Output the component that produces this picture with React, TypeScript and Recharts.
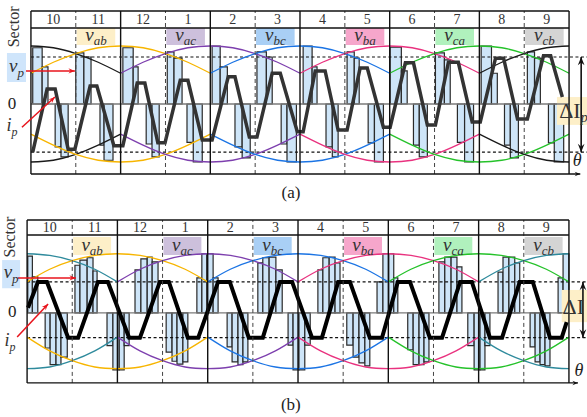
import React from 'react';
import { ComposedChart, Line, XAxis, YAxis, ReferenceArea, ReferenceLine, ReferenceDot } from 'recharts';

const SERIF = '"Liberation Serif", "DejaVu Serif", serif';

// sectors along theta, one unit each
const sectorLabels = ['10', '11', '12', '1', '2', '3', '4', '5', '6', '7', '8', '9'];
const sectorBounds = [0, 1, 2, 3, 4, 5, 6, 7, 8, 9, 10, 11, 12];

// line-voltage arcs: peak positions and tag boxes (over sectors 11, 1, 3, 5, 7, 9)
const peakPositions = [0, 2, 4, 6, 8, 10, 12];
const curveColorsA = ['#1a1a1a', '#f7b500', '#7d3fae', '#1b74e4', '#e9327f', '#25c22a', '#1a1a1a'];
const curveColorsB = ['#2e8a9c', '#f7b500', '#7d3fae', '#1b74e4', '#e9327f', '#25c22a', '#2e8a9c'];
const tagStarts = [1, 3, 5, 7, 9, 11];
const tagNames = ['ab', 'ac', 'bc', 'ba', 'ca', 'cb'];
const tagFills = ['#fdefc8', '#cdc0dc', '#a9cff5', '#f6a6cb', '#b0f1bd', '#d4d4d4'];

const arcOffsets = [-2, -1.5, -1, -0.5, 0, 0.5, 1, 1.5, 2];
const upperArcA = [0.53, 0.72, 0.87, 0.97, 1.0, 0.97, 0.87, 0.72, 0.53];
const lowerArcA = [-0.52, -0.71, -0.87, -0.97, -1.0, -0.97, -0.87, -0.71, -0.52];
const upperArcB = [0.54, 0.76, 0.91, 1.0, 1.03, 1.0, 0.91, 0.76, 0.54];
const lowerArcB = [-0.42, -0.66, -0.83, -0.94, -0.97, -0.94, -0.83, -0.66, -0.42];

// (a) pulses: [start, end, level]
const pulsesA: [number, number, number][] = [
  [0.04, 0.25, 0.97], [0.25, 0.38, 0.64], [0.54, 0.67, -0.74], [0.67, 0.83, -0.91],
  [1.0, 1.18, 0.88], [1.18, 1.34, 0.81], [1.54, 1.63, -0.71], [1.63, 1.83, -0.97],
  [2.05, 2.28, 0.97], [2.28, 2.39, 0.64], [2.57, 2.7, -0.69], [2.7, 2.86, -0.91],
  [3.04, 3.19, 0.9], [3.19, 3.37, 0.79], [3.48, 3.62, -0.66], [3.62, 3.82, -1.0],
  [4.04, 4.22, 1.0], [4.22, 4.38, 0.64], [4.55, 4.71, -0.74], [4.71, 4.89, -0.93],
  [5.04, 5.25, 0.9], [5.25, 5.38, 0.81], [5.58, 5.71, -0.69], [5.71, 5.92, -1.0],
  [6.07, 6.27, 1.0], [6.27, 6.38, 0.64], [6.58, 6.72, -0.74], [6.72, 6.85, -0.91],
  [7.05, 7.21, 0.9], [7.21, 7.32, 0.79], [7.52, 7.66, -0.67], [7.66, 7.86, -1.0],
  [8.01, 8.26, 0.98], [8.26, 8.39, 0.57], [8.53, 8.66, -0.71], [8.66, 8.84, -0.91],
  [9.02, 9.22, 0.88], [9.22, 9.35, 0.76], [9.51, 9.67, -0.66], [9.67, 9.87, -1.0],
  [10.04, 10.27, 1.0], [10.27, 10.4, 0.53], [10.56, 10.69, -0.71], [10.69, 10.87, -0.93],
  [11.07, 11.23, 0.9], [11.23, 11.36, 0.79], [11.54, 11.67, -0.67], [11.67, 11.88, -1.0],
];

// (b) pulse groups: bar edges and levels
const pulseEdgesB = [
  [0.015, 0.117, 0.237],
  [0.4, 0.51, 0.64, 0.75, 0.89],
  [1.06, 1.17, 1.33, 1.46, 1.55],
  [1.77, 1.9, 2.04, 2.15, 2.26],
  [2.39, 2.52, 2.66, 2.77, 2.9],
  [3.08, 3.21, 3.32, 3.45, 3.56],
  [3.76, 3.87, 3.98, 4.12, 4.23],
  [4.43, 4.54, 4.67, 4.78, 4.89],
  [5.11, 5.22, 5.36, 5.51, 5.65],
  [5.78, 5.89, 6.02, 6.15, 6.27],
  [6.44, 6.55, 6.69, 6.82, 6.93],
  [7.08, 7.22, 7.35, 7.48, 7.59],
  [7.75, 7.88, 8.01, 8.12, 8.21],
  [8.43, 8.55, 8.68, 8.79, 8.9],
  [9.12, 9.25, 9.39, 9.52, 9.63],
  [9.76, 9.9, 10.03, 10.14, 10.25],
  [10.43, 10.54, 10.67, 10.8, 10.91],
  [11.14, 11.25, 11.36, 11.47, 11.58],
  [11.76, 11.87, 12.0],
];
const pulseLevelsB = [
  [0.99, 0.63],
  [-0.61, -0.9, -0.9, -0.77],
  [0.83, 0.92, 0.96, 0.73],
  [-0.57, -0.99, -0.99, -0.57],
  [0.75, 0.94, 0.97, 0.89],
  [-0.68, -0.84, -0.89, -0.85],
  [0.61, 1.03, 1.03, 0.61],
  [-0.59, -0.85, -0.9, -0.85],
  [0.87, 0.96, 0.97, 0.75],
  [-0.56, -0.99, -0.99, -0.56],
  [0.75, 0.96, 0.97, 0.87],
  [-0.56, -0.77, -0.87, -0.92],
  [0.54, 1.03, 1.03, 0.61],
  [-0.64, -0.9, -0.9, -0.85],
  [0.89, 0.97, 0.97, 0.8],
  [-0.57, -0.99, -0.99, -0.57],
  [0.71, 0.97, 0.97, 0.87],
  [-0.59, -0.85, -0.9, -0.92],
  [0.61, 1.03],
];

// inductor current i_p
const currentA: [number, number][] = [
  [0.04, -0.83], [0.36, 0.26], [0.54, 0.26], [0.83, -0.78], [0.98, -0.78], [1.32, 0.31], [1.47, 0.31],
  [1.85, -0.72], [2.05, -0.72], [2.37, 0.36], [2.54, 0.36], [2.83, -0.67], [2.99, -0.67], [3.33, 0.41],
  [3.5, 0.41], [3.82, -0.62], [4.04, -0.62], [4.4, 0.47], [4.55, 0.47], [4.87, -0.57], [5.04, -0.57],
  [5.38, 0.53], [5.56, 0.53], [5.94, -0.48], [6.07, -0.48], [6.34, 0.57], [6.56, 0.57], [6.85, -0.45],
  [7.05, -0.45], [7.34, 0.62], [7.5, 0.62], [7.86, -0.4], [8.01, -0.4], [8.35, 0.71], [8.53, 0.71],
  [8.84, -0.36], [9.02, -0.36], [9.31, 0.72], [9.53, 0.72], [9.84, -0.31], [10.02, -0.31], [10.36, 0.79],
  [10.54, 0.79], [10.85, -0.26], [11.07, -0.26], [11.43, 0.83], [11.59, 0.83], [11.85, 0.12],
];
const currentB: [number, number][] = [
  [0.02, 0.09], [0.24, 0.54], [0.44, 0.54], [0.91, -0.43], [1.13, -0.43], [1.57, 0.54], [1.79, 0.54],
  [2.26, -0.43], [2.5, -0.43], [2.94, 0.54], [3.14, 0.54], [3.56, -0.43], [3.79, -0.43], [4.23, 0.54],
  [4.49, 0.54], [4.91, -0.43], [5.22, -0.43], [5.6, 0.54], [5.87, 0.54], [6.31, -0.43], [6.53, -0.43],
  [6.89, 0.54], [7.15, 0.54], [7.59, -0.43], [7.86, -0.43], [8.21, 0.54], [8.48, 0.54], [8.92, -0.43],
  [9.19, -0.43], [9.59, 0.54], [9.85, 0.54], [10.25, -0.43], [10.52, -0.43], [10.91, 0.54], [11.2, 0.54],
  [11.58, -0.43], [11.84, -0.43], [11.95, -0.16],
];

function arrowShape(color: string, width: number, twoHeads = false, head = 7) {
  return (p: any) => {
    const { x1, y1, x2, y2 } = p;
    const a = Math.atan2(y2 - y1, x2 - x1);
    const tip = (x: number, y: number, ang: number) => {
      const l = [x - head * Math.cos(ang - 0.38), y - head * Math.sin(ang - 0.38)];
      const m = [x - head * 0.6 * Math.cos(ang), y - head * 0.6 * Math.sin(ang)];
      const r = [x - head * Math.cos(ang + 0.38), y - head * Math.sin(ang + 0.38)];
      return `${x},${y} ${l[0]},${l[1]} ${m[0]},${m[1]} ${r[0]},${r[1]}`;
    };
    return (
      <g>
        <line x1={x1} y1={y1} x2={x2} y2={y2} stroke={color} strokeWidth={width} />
        <polygon points={tip(x2, y2, a)} fill={color} />
        {twoHeads && <polygon points={tip(x1, y1, a + Math.PI)} fill={color} />}
      </g>
    );
  };
}

function textAt(content: React.ReactNode, extra: any = {}, rotate = 0) {
  return (p: any) => (
    <text
      x={p.cx}
      y={p.cy}
      textAnchor="middle"
      dominantBaseline="central"
      fontFamily={SERIF}
      fontSize={16}
      fill="#222"
      transform={rotate ? `rotate(${rotate} ${p.cx} ${p.cy})` : undefined}
      {...extra}
    >
      {content}
    </text>
  );
}

function sub(main: string, s: string, size = 19, subSize = 13, dy = 6) {
  return [
    <tspan key="m" fontStyle="italic" fontSize={size}>{main}</tspan>,
    <tspan key="s" fontStyle="italic" fontSize={subSize} dy={dy}>{s}</tspan>,
  ];
}

interface PanelProps {
  height: number;
  top: number;
  xDomain: [number, number];
  yDomain: [number, number];
  headerTop: number;
  headerBottom: number;
  plotBottom: number;
  tagTop: number;
  tagBottom: number;
  tagWidth: number;
  curveColors: string[];
  upperArc: number[];
  lowerArc: number[];
  pulses: [number, number, number][];
  current: [number, number][];
  currentColor: string;
  currentWidth: number;
  bands: [number, number];
  deltaX: number;
  deltaBox: [number, number, number, number];
  deltaText: [number, number];
  deltaLabel: React.ReactNode;
  thetaAt: [number, number];
  thetaEnd: number;
  caption: string;
  captionAt: [number, number];
  sectorAt: [number, number];
  vpBox: [number, number, number, number];
  vpArrow: [number, number, number];
  zeroAt: [number, number];
  ipAt: [number, number];
  ipArrow: [number, number, number, number];
}

function Panel(p: PanelProps) {
  const curves = peakPositions.map((pk) => ({
    upper: arcOffsets
      .map((o, i) => ({ x: pk + o, y: p.upperArc[i] }))
      .filter((d) => d.x >= 0 && d.x <= 12),
    lower: arcOffsets
      .map((o, i) => ({ x: pk + o, y: p.lowerArc[i] }))
      .filter((d) => d.x >= 0 && d.x <= 12),
  }));
  const currentData = p.current.map(([x, y]) => ({ x, y }));

  return (
    <div style={{ position: 'absolute', left: 0, top: p.top }}>
      <ComposedChart width={587} height={p.height} margin={{ top: 0, right: 0, bottom: 0, left: 0 }}>
        <XAxis type="number" dataKey="x" domain={p.xDomain} allowDataOverflow hide />
        <YAxis type="number" dataKey="y" domain={p.yDomain} allowDataOverflow hide />

        {/* tag boxes */}
        {tagStarts.map((s, i) => (
          <ReferenceArea
            key={`tag${i}`}
            x1={s + 0.02}
            x2={s + p.tagWidth}
            y1={p.tagBottom}
            y2={p.tagTop}
            fill={tagFills[i]}
            fillOpacity={1}
            stroke="none"
            ifOverflow="visible"
          />
        ))}
        {tagStarts.map((s, i) => (
          <ReferenceDot
            key={`tagt${i}`}
            x={s + 0.02 + (p.tagWidth - 0.02) / 2}
            y={(p.tagTop + p.tagBottom) / 2 + 0.04}
            r={0}
            ifOverflow="visible"
            shape={textAt(sub('v', tagNames[i]), { fill: '#333' })}
          />
        ))}

        {/* pulses */}
        {p.pulses.map(([a, b, v], i) => (
          <ReferenceArea
            key={`pl${i}`}
            x1={a}
            x2={b}
            y1={0}
            y2={v}
            fill="#c6e0f7"
            fillOpacity={0.85}
            stroke="#2a2a2a"
            strokeWidth={1.2}
            ifOverflow="visible"
          />
        ))}

        {/* zero line and bands */}
        <ReferenceLine segment={[{ x: 0, y: 0 }, { x: 12, y: 0 }]} stroke="#7a7a7a" strokeWidth={1.3} ifOverflow="visible" />
        {p.bands.map((b, i) => (
          <ReferenceLine
            key={`band${i}`}
            segment={[{ x: 0, y: b }, { x: p.xDomain[1], y: b }]}
            stroke="#111"
            strokeWidth={1.2}
            strokeDasharray="3 2.5"
            ifOverflow="visible"
          />
        ))}

        {/* line voltage envelopes */}
        {curves.map((c, i) => (
          <Line
            key={`u${i}`}
            data={c.upper}
            dataKey="y"
            type="natural"
            stroke={p.curveColors[i]}
            strokeWidth={1.3}
            dot={false}
            activeDot={false}
            isAnimationActive={false}
          />
        ))}
        {curves.map((c, i) => (
          <Line
            key={`l${i}`}
            data={c.lower}
            dataKey="y"
            type="natural"
            stroke={p.curveColors[i]}
            strokeWidth={1.3}
            dot={false}
            activeDot={false}
            isAnimationActive={false}
          />
        ))}

        {/* current */}
        <Line
          data={currentData}
          dataKey="y"
          type="linear"
          stroke={p.currentColor}
          strokeWidth={p.currentWidth}
          strokeLinejoin="miter"
          dot={false}
          activeDot={false}
          isAnimationActive={false}
        />

        {/* sector grid */}
        {sectorBounds.map((b) => (
          <ReferenceLine
            key={`sb${b}`}
            segment={[{ x: b, y: p.plotBottom }, { x: b, y: p.headerTop }]}
            stroke={b % 2 === 0 ? '#111' : '#444'}
            strokeWidth={b % 2 === 0 ? 1.4 : 1}
            strokeDasharray={b % 2 === 0 ? undefined : '4 3'}
            ifOverflow="visible"
          />
        ))}
        <ReferenceLine segment={[{ x: 0, y: p.headerTop }, { x: 12, y: p.headerTop }]} stroke="#111" strokeWidth={1.6} ifOverflow="visible" />
        <ReferenceLine segment={[{ x: 0, y: p.headerBottom }, { x: 12, y: p.headerBottom }]} stroke="#111" strokeWidth={1.4} ifOverflow="visible" />
        <ReferenceLine
          segment={[{ x: 0, y: p.plotBottom }, { x: p.thetaEnd, y: p.plotBottom }]}
          stroke="#111"
          strokeWidth={1.4}
          ifOverflow="visible"
          shape={arrowShape('#111', 1.4, false, 6)}
        />
        {sectorLabels.map((s, i) => (
          <ReferenceDot
            key={`sl${i}`}
            x={i + 0.5}
            y={(p.headerTop + p.headerBottom) / 2}
            r={0}
            ifOverflow="visible"
            shape={textAt(s, { fontSize: 14, fill: '#333' })}
          />
        ))}

        {/* delta I */}
        <ReferenceLine
          segment={[{ x: p.deltaX, y: p.bands[0] }, { x: p.deltaX, y: p.bands[1] }]}
          stroke="#111"
          strokeWidth={1.6}
          ifOverflow="visible"
          shape={arrowShape('#111', 1.6, true, 9)}
        />
        <ReferenceArea
          x1={p.deltaBox[0]}
          x2={p.deltaBox[1]}
          y1={p.deltaBox[2]}
          y2={p.deltaBox[3]}
          fill="#fdefc8"
          fillOpacity={1}
          stroke="none"
          ifOverflow="visible"
        />
        <ReferenceDot
          x={p.deltaText[0]}
          y={p.deltaText[1]}
          r={0}
          ifOverflow="visible"
          shape={textAt(p.deltaLabel, { textAnchor: 'start', fontSize: 22, fill: '#333' })}
        />

        {/* theta, caption */}
        <ReferenceDot x={p.thetaAt[0]} y={p.thetaAt[1]} r={0} ifOverflow="visible" shape={textAt('θ', { fontStyle: 'italic', fontSize: 18 })} />
        <ReferenceDot x={p.captionAt[0]} y={p.captionAt[1]} r={0} ifOverflow="visible" shape={textAt(p.caption, { fontSize: 17 })} />

        {/* left annotations */}
        <ReferenceDot x={p.sectorAt[0]} y={p.sectorAt[1]} r={0} ifOverflow="visible" shape={textAt('Sector', { fontSize: 16, fill: '#333' }, -90)} />
        <ReferenceArea
          x1={p.vpBox[0]}
          x2={p.vpBox[1]}
          y1={p.vpBox[2]}
          y2={p.vpBox[3]}
          fill="#cfe5fb"
          fillOpacity={1}
          stroke="none"
          ifOverflow="visible"
        />
        <ReferenceDot
          x={(p.vpBox[0] + p.vpBox[1]) / 2}
          y={(p.vpBox[2] + p.vpBox[3]) / 2 + 0.05}
          r={0}
          ifOverflow="visible"
          shape={textAt(sub('v', 'p', 19, 13, 7), { fill: '#333' })}
        />
        <ReferenceLine
          segment={[{ x: p.vpArrow[0], y: p.vpArrow[2] }, { x: p.vpArrow[1], y: p.vpArrow[2] }]}
          stroke="#e8141c"
          ifOverflow="visible"
          shape={arrowShape('#e8141c', 1.5, false, 7)}
        />
        <ReferenceDot x={p.zeroAt[0]} y={p.zeroAt[1]} r={0} ifOverflow="visible" shape={textAt('0', { fontSize: 17 })} />
        <ReferenceDot x={p.ipAt[0]} y={p.ipAt[1]} r={0} ifOverflow="visible" shape={textAt(sub('i', 'p', 18, 12, 7), { fill: '#333' })} />
        <ReferenceLine
          segment={[{ x: p.ipArrow[0], y: p.ipArrow[1] }, { x: p.ipArrow[2], y: p.ipArrow[3] }]}
          stroke="#e8141c"
          ifOverflow="visible"
          shape={arrowShape('#e8141c', 1.5, false, 7)}
        />
      </ComposedChart>
    </div>
  );
}

const pulsesB: [number, number, number][] = pulseEdgesB.flatMap((edges, g) =>
  pulseLevelsB[g].map((v, i) => [edges[i], edges[i + 1], v] as [number, number, number])
);

export default function App() {
  return (
    <div style={{ position: 'absolute', left: 0, top: 0, width: 587, height: 417, background: '#fff' }}>
      <Panel
        height={212}
        top={0}
        xDomain={[-0.69, 12.4]}
        yDomain={[-1.862, 1.793]}
        headerTop={1.603}
        headerBottom={1.31}
        plotBottom={-1.207}
        tagTop={1.31}
        tagBottom={1.017}
        tagWidth={0.88}
        curveColors={curveColorsA}
        upperArc={upperArcA}
        lowerArc={lowerArcA}
        pulses={pulsesA}
        current={currentA}
        currentColor="#333"
        currentWidth={3.5}
        bands={[0.81, -0.83]}
        deltaX={12.27}
        deltaBox={[11.73, 12.4, -0.36, 0.12]}
        deltaText={[11.78, -0.1]}
        deltaLabel={[<tspan key="d">ΔI</tspan>, <tspan key="p" fontStyle="italic" fontSize={14} dy={7}>p</tspan>]}
        thetaAt={[12.18, -0.97]}
        thetaEnd={12.25}
        caption="(a)"
        captionAt={[5.8, -1.53]}
        sectorAt={[-0.38, 1.33]}
        vpBox={[-0.535, -0.11, 0.38, 0.88]}
        vpArrow={[-0.11, 0.98, 0.57]}
        zeroAt={[-0.42, 0]}
        ipAt={[-0.42, -0.36]}
        ipArrow={[-0.2, -0.4, 0.535, 0.12]}
      />
      <Panel
        height={217}
        top={200}
        xDomain={[-0.6, 12.4]}
        yDomain={[-1.81, 1.965]}
        headerTop={1.617}
        headerBottom={1.357}
        plotBottom={-1.217}
        tagTop={1.32}
        tagBottom={1.01}
        tagWidth={0.86}
        curveColors={curveColorsB}
        upperArc={upperArcB}
        lowerArc={lowerArcB}
        pulses={pulsesB}
        current={currentB}
        currentColor="#000"
        currentWidth={4}
        bands={[0.54, -0.43]}
        deltaX={12.31}
        deltaBox={[11.84, 12.4, -0.16, 0.4]}
        deltaText={[11.86, 0.12]}
        deltaLabel={[<tspan key="d">ΔI</tspan>]}
        thetaAt={[12.22, -0.99]}
        thetaEnd={12.2}
        caption="(b)"
        captionAt={[5.84, -1.6]}
        sectorAt={[-0.4, 1.32]}
        vpBox={[-0.553, -0.155, 0.43, 0.92]}
        vpArrow={[-0.2, 1.08, 0.61]}
        zeroAt={[-0.33, 0.03]}
        ipAt={[-0.38, -0.47]}
        ipArrow={[-0.22, -0.42, 0.465, 0.157]}
      />
    </div>
  );
}
